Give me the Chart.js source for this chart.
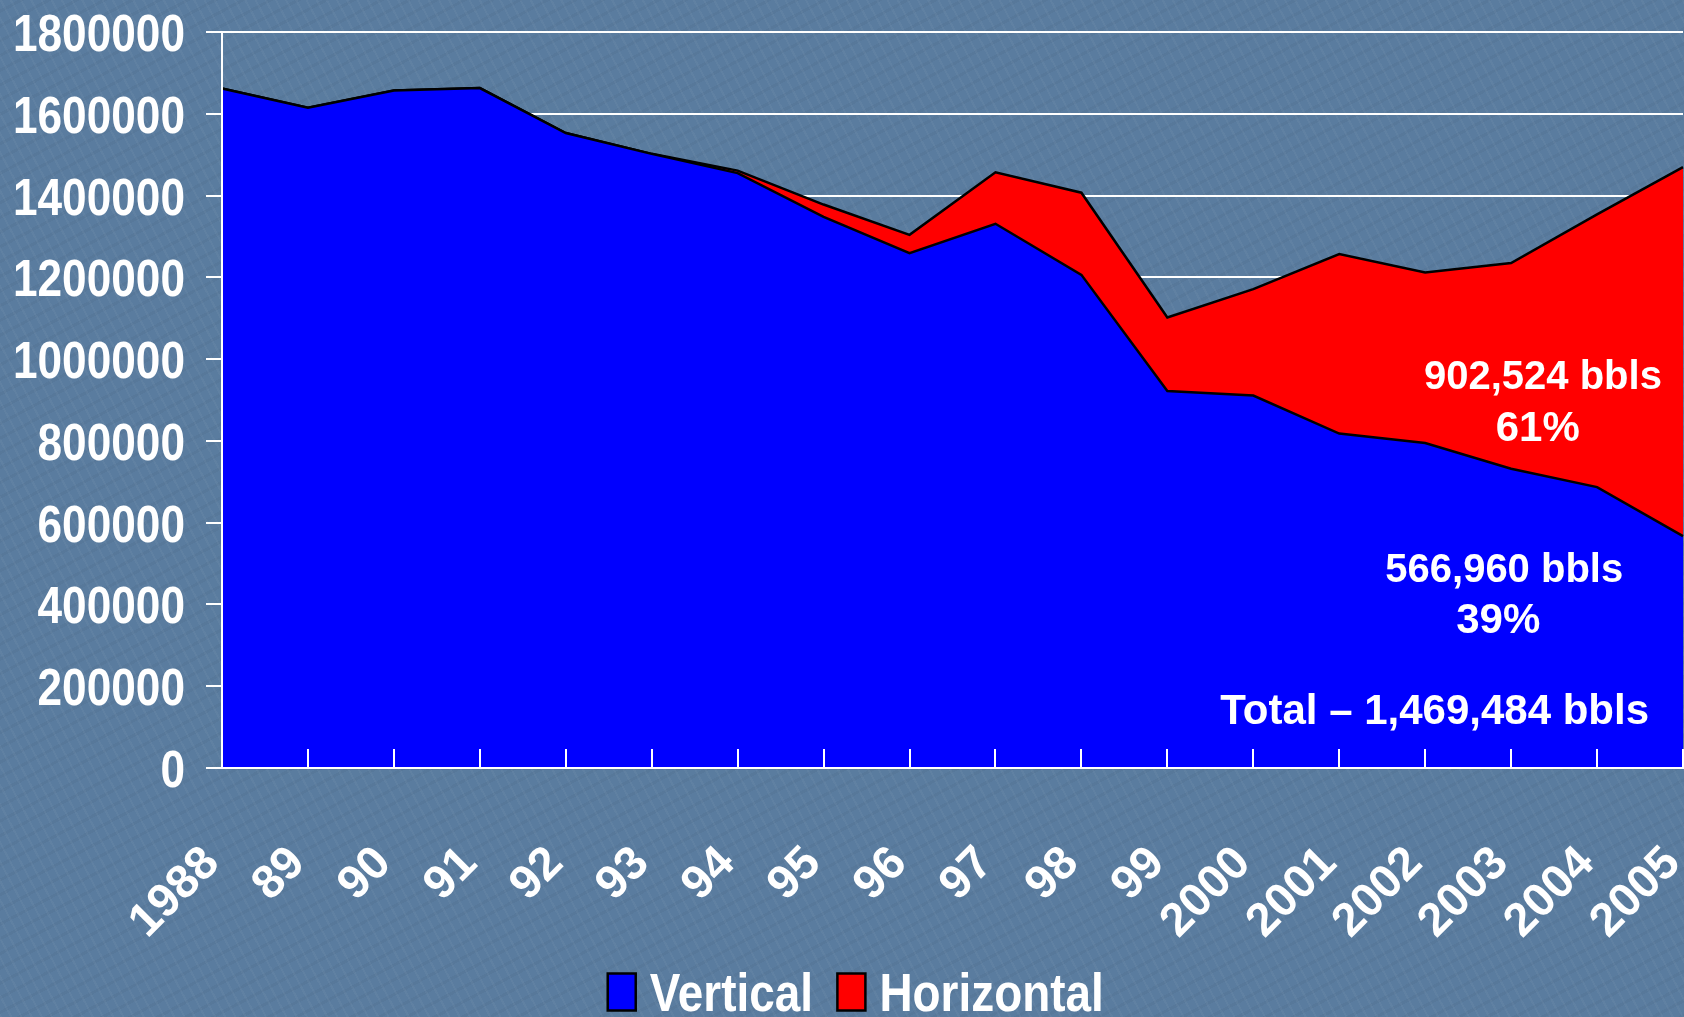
<!DOCTYPE html>
<html>
<head>
<meta charset="utf-8">
<script src="https://cdn.jsdelivr.net/npm/chart.js@4.4.1/dist/chart.umd.min.js"></script>
<style>
  html, body { margin: 0; padding: 0; }
  body {
    width: 1684px;
    height: 1017px;
    overflow: hidden;
    background-color: #5a7c9f;
    background-image:
      repeating-linear-gradient(62deg, rgba(255,255,255,0.035) 0px, rgba(255,255,255,0.035) 2px, rgba(0,0,0,0) 2px, rgba(0,0,0,0) 9px),
      repeating-linear-gradient(-28deg, rgba(0,0,0,0.03) 0px, rgba(0,0,0,0.03) 3px, rgba(0,0,0,0) 3px, rgba(0,0,0,0) 13px);
  }
  canvas { display: block; }
</style>
</head>
<body>
<canvas id="areaChart" width="1684" height="1017"></canvas>
<script>
const ARIAL = "'Liberation Sans', Arial, sans-serif";

const years = ['1988', '89', '90', '91', '92', '93', '94', '95', '96', '97', '98', '99',
  '2000', '2001', '2002', '2003', '2004', '2005'];

// barrels per year
const vertical = [1662000, 1615000, 1657000, 1663000, 1553000, 1502000, 1455000, 1348000, 1259000,
  1331000, 1206000, 922000, 911000, 818000, 795000, 732000, 687000, 566960];
const horizontal = [0, 0, 0, 0, 0, 0, 6000, 30000, 45000,
  126000, 201000, 180000, 260000, 439000, 417000, 503000, 667000, 902524];

const yMax = 1800000;
const yStep = 200000;

// annotation text, placed in data units (x = category index, y = baseline value)
const notes = [
  { text: '902,524 bbls', x: 15.37, y: 927000, size: 40 },
  { text: '61%', x: 15.31, y: 799000, size: 42 },
  { text: '566,960 bbls', x: 14.92, y: 456000, size: 40 },
  { text: '39%', x: 14.85, y: 329000, size: 42 },
  { text: 'Total \u2013 1,469,484 bbls', x: 14.11, y: 108000, size: 42 }
];

// no narrow font installed, so squeeze bold Liberation Sans horizontally
function narrowText(ctx, text, x, y, size, squeeze, align) {
  ctx.save();
  ctx.font = 'bold ' + size + 'px ' + ARIAL;
  ctx.fillStyle = '#ffffff';
  ctx.textAlign = align;
  ctx.textBaseline = 'alphabetic';
  ctx.translate(x, y);
  ctx.scale(squeeze, 1);
  ctx.fillText(text, 0, 0);
  ctx.restore();
}

const extrasPlugin = {
  id: 'extras',
  afterDatasetsDraw(chart) {
    const ctx = chart.ctx;
    const xs = chart.scales.x;
    const ys = chart.scales.y;
    const area = chart.chartArea;

    // inward tick marks on the category axis
    ctx.save();
    ctx.strokeStyle = '#ffffff';
    ctx.lineWidth = 2;
    ctx.beginPath();
    for (let i = 1; i < xs.ticks.length; i++) {
      const px = Math.round(xs.getPixelForTick(i));
      ctx.moveTo(px, area.bottom);
      ctx.lineTo(px, area.bottom - 19);
    }
    ctx.stroke();
    ctx.restore();

    ctx.save();
    ctx.fillStyle = '#ffffff';
    ctx.textAlign = 'center';
    ctx.textBaseline = 'alphabetic';
    notes.forEach(n => {
      ctx.font = 'bold ' + n.size + 'px ' + ARIAL;
      ctx.fillText(n.text, xs.getPixelForValue(n.x), ys.getPixelForValue(n.y));
    });
    ctx.restore();
  },
  afterDraw(chart) {
    const ctx = chart.ctx;
    const ys = chart.scales.y;
    const area = chart.chartArea;

    // value axis labels
    ys.ticks.forEach((t, i) => {
      narrowText(ctx, String(t.value), area.left - 37, ys.getPixelForTick(i) + 19, 52, 0.85, 'right');
    });

    // legend labels
    const legend = chart.legend;
    legend.legendItems.forEach((item, i) => {
      const box = legend.legendHitBoxes[i];
      narrowText(ctx, item.text, box.left + 28 + 14, box.top + box.height / 2 + 19, 54, 0.85, 'left');
    });
  }
};

const data = {
  labels: years,
  datasets: [{
      label: 'Vertical',
      data: vertical,
      backgroundColor: '#0000ff',
      borderColor: '#000000',
      borderWidth: 2.5,
      fill: 'origin',
      pointRadius: 0,
      tension: 0
    },
    {
      label: 'Horizontal',
      data: horizontal,
      backgroundColor: '#ff0000',
      borderColor: '#000000',
      borderWidth: 2.5,
      fill: '-1',
      pointRadius: 0,
      tension: 0
    }]
};

const config = {
  type: 'line',
  data: data,
  options: {
    responsive: false,
    animation: false,
    events: [],
    layout: {
      padding: { left: 38, top: 0, right: 1, bottom: -8 }
    },
    scales: {
      x: {
        offset: false,
        grid: { display: false, drawTicks: false },
        border: { display: true, color: '#ffffff', width: 2, z: 1 },
        ticks: {
          color: '#ffffff',
          font: { family: ARIAL, size: 47, weight: 'bold' },
          minRotation: 45,
          maxRotation: 45,
          autoSkip: false,
          padding: 68,
          labelOffset: -10
        },
        afterFit(scale) {
          scale.paddingLeft = 0;
          scale.paddingRight = 0;
          scale.height = 186;
        }
      },
      y: {
        stacked: true,
        min: 0,
        max: yMax,
        grid: {
          color: '#ffffff',
          lineWidth: 2,
          drawTicks: true,
          tickLength: 16
        },
        border: { display: true, color: '#ffffff', width: 2, z: 1 },
        ticks: {
          stepSize: yStep,
          color: 'rgba(0,0,0,0)',
          font: { family: ARIAL, size: 52, weight: 'bold' },
          padding: 20,
          callback: v => String(v)
        },
        afterFit(scale) {
          scale.width = 184;
          scale.paddingTop = 32;
        }
      }
    },
    plugins: {
      legend: {
        position: 'bottom',
        labels: {
          color: 'rgba(0,0,0,0)',
          font: { family: ARIAL, size: 46, weight: 'bold' },
          boxWidth: 28,
          boxHeight: 37,
          padding: 15
        }
      },
      tooltip: { enabled: false }
    }
  },
  plugins: [extrasPlugin]
};

const myChart = new Chart(
  document.getElementById('areaChart'),
  config
);
</script>
</body>
</html>
